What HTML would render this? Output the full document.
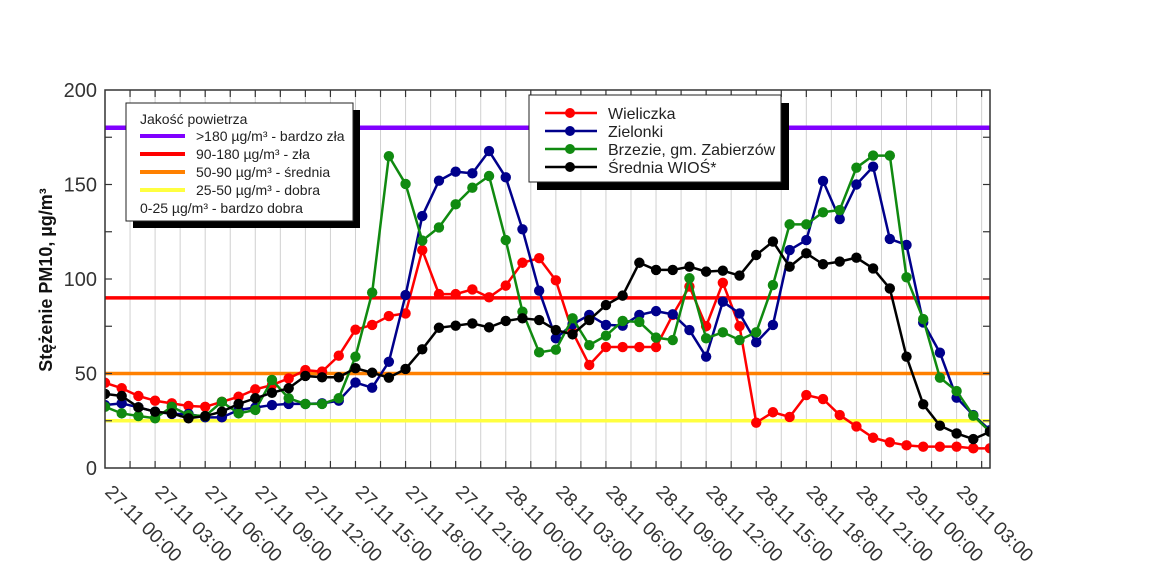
<!DOCTYPE html>
<html><head><meta charset="utf-8"><style>
html,body{margin:0;padding:0;background:#fff;}
svg{display:block;font-family:"Liberation Sans","DejaVu Sans",sans-serif;}
</style></head><body>
<svg id="chart" width="1150" height="571" viewBox="0 0 1150 571" xmlns="http://www.w3.org/2000/svg">
<defs><clipPath id="pc"><rect x="105" y="90" width="885" height="378"/></clipPath></defs>
<rect x="0" y="0" width="1150" height="571" fill="#fff"/>
<g id="grid"></g>
<g id="thresholds" clip-path="url(#pc)"></g>
<g id="series" clip-path="url(#pc)"></g>
<g id="axes"></g>
<text transform="translate(52,280) rotate(-90)" text-anchor="middle" font-size="18" font-weight="bold" fill="#111">Stężenie PM10, µg/m³</text>

<g>
<rect x="133" y="110" width="227" height="118" fill="#000"/>
<rect x="126" y="103" width="227" height="118" fill="#fff" stroke="#222" stroke-width="1"/>
<text x="140" y="124" font-size="14" fill="#222">Jakość powietrza</text>
<line x1="140" y1="136" x2="185" y2="136" stroke="#8000ff" stroke-width="4"/>
<text x="196" y="141" font-size="14" fill="#222">&gt;180 µg/m³ - bardzo zła</text>
<line x1="140" y1="154" x2="185" y2="154" stroke="#ff0000" stroke-width="4"/>
<text x="196" y="159" font-size="14" fill="#222">90-180 µg/m³ - zła</text>
<line x1="140" y1="172" x2="185" y2="172" stroke="#ff8000" stroke-width="4"/>
<text x="196" y="177" font-size="14" fill="#222">50-90 µg/m³ - średnia</text>
<line x1="140" y1="190" x2="185" y2="190" stroke="#ffff40" stroke-width="4"/>
<text x="196" y="195" font-size="14" fill="#222">25-50 µg/m³ - dobra</text>
<text x="140" y="213" font-size="14" fill="#222">0-25 µg/m³ - bardzo dobra</text>
</g>

<g>
<rect x="537" y="103" width="252" height="87" fill="#000"/>
<rect x="529" y="95" width="252" height="87" fill="#fff" stroke="#222" stroke-width="1"/>
<g><line x1="545" y1="113" x2="597" y2="113" stroke="#ff0000" stroke-width="2.5"/><circle cx="570" cy="113" r="5" fill="#ff0000"/><text x="608" y="119" font-size="16" fill="#222">Wieliczka</text></g>
<g><line x1="545" y1="131" x2="597" y2="131" stroke="#00008b" stroke-width="2.5"/><circle cx="570" cy="131" r="5" fill="#00008b"/><text x="608" y="137" font-size="16" fill="#222">Zielonki</text></g>
<g><line x1="545" y1="149" x2="597" y2="149" stroke="#108a10" stroke-width="2.5"/><circle cx="570" cy="149" r="5" fill="#108a10"/><text x="608" y="155" font-size="16" fill="#222">Brzezie, gm. Zabierzów</text></g>
<g><line x1="545" y1="167" x2="597" y2="167" stroke="#000" stroke-width="2.5"/><circle cx="570" cy="167" r="5" fill="#000"/><text x="608" y="173" font-size="16" fill="#222">Średnia WIOŚ*</text></g>
</g>
</svg>
<script>
const wieliczka=[45.1,42.2,38.1,35.6,34.2,32.8,32.4,35,37.7,41.6,43.9,47.4,51.8,51,59.4,73.2,75.7,80.4,81.8,115.3,92,92,94.5,90.3,96.5,108.6,111,99.3,72,54.5,64,64,64,64,81,96,75,98,75,24,29.5,27,38.6,36.5,28,22,16,13.6,12,11.3,11.3,11.3,10.4,10.4];
const zielonki=[33.3,34.2,32.1,29.8,28.6,28.6,26.8,26.8,30.7,32,33.3,33.9,33.9,34.2,35.6,45.2,42.5,56.2,91.5,133.3,152,156.8,155.9,167.7,153.8,126.3,93.8,68.6,76,81,75.7,75.3,81,83,81.3,73,58.9,88,81.8,66.5,75.7,115.3,120.6,151.9,131.7,150,159.4,121.2,118,77,61,37.2,28,20];
const brzezie=[32.4,28.9,27.5,26.3,32.4,28,27.5,35,28.9,30.7,46.6,36.9,33.9,33.9,36.9,58.9,92.8,165,150.3,120.3,127.3,139.5,148.3,154.5,120.6,82.7,61.2,62.6,79.2,65,70,77.8,77.3,69,67.7,100.4,68.6,71.8,67.7,71.8,96.8,128.9,128.9,135.3,136.5,158.9,165.3,165.3,100.9,78.8,47.8,40.7,27.7,19.2];
const srednia=[39.2,38.1,32.1,29.8,28.9,26.3,27.5,29.8,33.9,36.9,39.8,42.2,48.7,48,48,52.8,50.4,47.8,52.4,62.8,74.2,75.3,76.5,74.4,77.8,79.2,78.3,73,70.7,78.3,86.2,91.2,108.6,104.8,104.8,106.5,103.9,104.4,101.8,112.7,119.8,106.5,113.6,107.8,109.2,111.3,105.6,95,58.9,33.7,22.4,18.3,15.3,19.2];
const thresholdValues=[180,90,50,25];
const thresholdColors=['#8000ff','#ff0000','#ff8000','#ffff40'];
const yTicks=[0,50,100,150,200];
const xTickLabels=['27.11 00:00','27.11 03:00','27.11 06:00','27.11 09:00','27.11 12:00','27.11 15:00','27.11 18:00','27.11 21:00','28.11 00:00','28.11 03:00','28.11 06:00','28.11 09:00','28.11 12:00','28.11 15:00','28.11 18:00','28.11 21:00','29.11 00:00','29.11 03:00'];

const NS='http://www.w3.org/2000/svg';
const L=105,R=990,T=90,B=468,HMAX=53;
const X=h=>L+(h/HMAX)*(R-L);
const Y=v=>B-(v/200)*(B-T);
function mk(tag,attrs,parent){const e=document.createElementNS(NS,tag);for(const k in attrs)e.setAttribute(k,attrs[k]);parent.appendChild(e);return e;}
const grid=document.getElementById('grid'),axes=document.getElementById('axes'),th=document.getElementById('thresholds'),ser=document.getElementById('series');
for(let h=1.5;h<HMAX;h+=1.5){
  const g=mk('line',{x1:X(h),x2:X(h),y1:T,y2:B,stroke:'#d0d0d0','stroke-width':1},grid);
  
  
  const t1=mk('line',{x1:X(h),x2:X(h),y1:B,y2:B-7,stroke:'#333','stroke-width':1.2},axes);
  
  
  const t2=mk('line',{x1:X(h),x2:X(h),y1:T,y2:T+7,stroke:'#333','stroke-width':1.2},axes);
  
  
}
for(let v=25;v<200;v+=25){
  const a=mk('line',{x1:L,x2:L+7,y1:Y(v),y2:Y(v),stroke:'#333','stroke-width':1.2},axes);
  
  
  const b=mk('line',{x1:R,x2:R-7,y1:Y(v),y2:Y(v),stroke:'#333','stroke-width':1.2},axes);
  
  
}
yTicks.forEach(v=>{
  const t=mk('text',{x:97,y:Y(v)+7,'text-anchor':'end','font-size':20,fill:'#333'},axes);
  t.textContent=v;
  
  
});
xTickLabels.forEach((s,i)=>{
  const x=X(i*3);
  const t=mk('text',{transform:`translate(${x-1},${493}) rotate(45)`,'font-size':19,fill:'#333'},axes);
  t.textContent=s;
  
  
});
const fr=mk('rect',{x:L,y:T,width:R-L,height:B-T,fill:'none',stroke:'#333','stroke-width':1.5},axes);


thresholdValues.forEach((v,i)=>{
  const l=mk('line',{x1:L,x2:R,y1:Y(v),y2:Y(v),stroke:thresholdColors[i],'stroke-width':i===0?4.5:3.5},th);
  
  
});
const seriesList=[[wieliczka,'#ff0000','wieliczka'],[zielonki,'#00008b','zielonki'],[brzezie,'#108a10','brzezie'],[srednia,'#000000','srednia']];
seriesList.forEach(([d,c,n])=>{
  const g=mk('g',{},ser);
  
  
  const p=mk('polyline',{points:d.map((v,i)=>X(i)+','+Y(v)).join(' '),fill:'none',stroke:c,'stroke-width':2.5,'stroke-linejoin':'round'},g);
  
  
  d.forEach((v,i)=>{
    const m=mk('circle',{cx:X(i),cy:Y(v),r:5.2,fill:c},g);
    
    
  });
});
</script>
</body></html>
